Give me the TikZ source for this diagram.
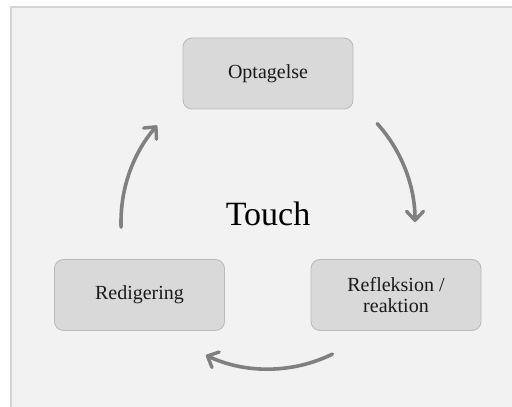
\documentclass[tikz,border=0pt]{standalone}
\usepackage{fontspec}
\setmainfont{Liberation Serif}
\usepackage{tikz}
\usetikzlibrary{positioning, calc, arrows.meta}
\usepackage{xcolor}
\definecolor{bggray}{HTML}{F2F2F2}
\definecolor{edgegray}{HTML}{D4D4D4}
\definecolor{boxgray}{HTML}{D9D9D9}
\definecolor{boxline}{HTML}{BABABA}
\definecolor{arcgray}{HTML}{808080}

\begin{document}
\begin{tikzpicture}[x=1pt, y=1pt,
    stage/.style={draw=boxline, fill=boxgray, rounded corners=9pt, line width=0.8pt,
        minimum width=170pt, minimum height=71pt, align=center,
        font=\fontsize{20}{21}\selectfont, text=black!90},
    cyc/.style={draw=arcgray, line width=3.6pt, line cap=round,
        -{Straight Barb[length=9pt, width=17pt, line width=3.4pt, round]}}]
        \useasboundingbox (0,0) rectangle (512,407);

        % Background panel
        \fill[bggray] (11,0) rectangle (512,400);
        \draw[edgegray, line width=1.5pt] (11,0) -- (11,400) -- (512,400);

        % Stages
        \node[stage] (opt) at (268,333.5) {Optagelse};
        \node[stage] (ref) at (396,112)   {Refleksion /\\reaktion};
        \node[stage] (red) at (139.5,112) {Redigering};

        % Centre label
        \node[font=\fontsize{34}{36}\selectfont] (touch) at (268,193) {Touch};

        % Cycle arrows
        \coordinate (c) at (268,185);
        \draw[cyc] ($(c)+(42:147)$)   arc[start angle=42,   end angle=0,    radius=147];
        \draw[cyc] ($(c)+(-64:147)$)  arc[start angle=-64,  end angle=-115, radius=147];
        \draw[cyc] ($(c)+(182:147)$)  arc[start angle=182,  end angle=139,  radius=147];
    \end{tikzpicture}
\end{document}
